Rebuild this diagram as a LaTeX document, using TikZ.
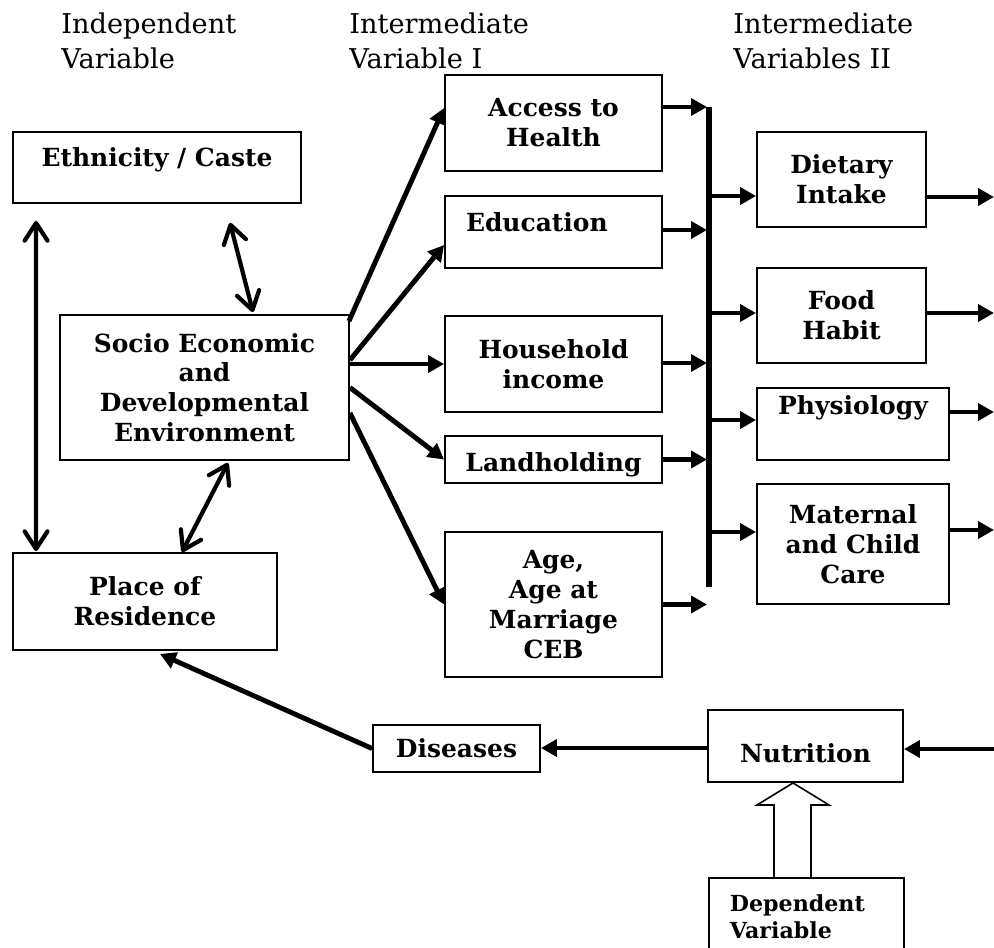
\documentclass[tikz,border=0pt]{standalone}
\usepackage{fontspec}
\setmainfont{DejaVu Serif}
\usetikzlibrary{arrows.meta,calc}
\tikzset{
  box/.style={draw,line width=1.1pt,inner sep=2pt,align=center,
    font=\fontsize{14.2}{17}\selectfont\bfseries},
  head/.style={inner sep=0pt,align=left,font=\fontsize{15.5}{19.8}\selectfont},
  arr/.style={line width=2.8pt,-{Triangle[length=9pt,width=9.5pt]}},
  dbl/.style={line width=2.4pt,
    {Straight Barb[length=10pt,width=13pt,round]}-{Straight Barb[length=10pt,width=13pt,round]}},
  bus/.style={line width=3pt},
  hollow/.style={line width=0.9pt,fill=white}
}
\begin{document}
\begin{tikzpicture}[x=0.02cm,y=-0.02cm]
  \useasboundingbox (0,0) rectangle (994,947);
  % headings
  \node[head,anchor=base west] (hind) at (61,68) {Independent\\Variable};
  \node[head,anchor=base west] (hint) at (349,68) {Intermediate\\Variable I};
  \node[head,anchor=base west] (hintb) at (733,68) {Intermediate\\Variables II};
  % independent side
  \node[box,minimum width=5.76cm,minimum height=1.42cm,text height=10pt,text depth=11.7pt] (eth) at (157,167.5) {Ethnicity / Caste};
  \node[box,minimum width=5.78cm,minimum height=2.9cm] (soc) at (204.5,387.5) {Socio Economic\\and\\Developmental\\Environment};
  \node[box,minimum width=5.28cm,minimum height=1.94cm] (pla) at (145,601.5) {Place of\\Residence};
  % intermediate I
  \node[box,minimum width=4.34cm,minimum height=1.92cm] (acc) at (553.5,123) {Access to\\Health};
  \node[box,minimum width=4.34cm,minimum height=1.44cm,text width=3.5cm,inner xsep=0.42cm,align=left,text height=10pt,text depth=11.1pt] (edu) at (553.5,232) {Education};
  \node[box,minimum width=4.34cm,minimum height=1.92cm] (hou) at (553.5,364) {Household\\income};
  \node[box,minimum width=4.34cm,minimum height=0.94cm,text height=14.2pt,text depth=0pt] (lan) at (553.5,459.5) {Landholding};
  \node[box,minimum width=4.34cm,minimum height=2.9cm] (age) at (553.5,604.5) {Age,\\Age at\\Marriage\\CEB};
  % intermediate II
  \node[box,minimum width=3.38cm,minimum height=1.9cm] (die) at (841.5,179.5) {Dietary\\Intake};
  \node[box,minimum width=3.38cm,minimum height=1.9cm] (foo) at (841.5,315.5) {Food\\Habit};
  \node[box,minimum width=3.84cm,minimum height=1.44cm,text height=10pt,text depth=21.3pt] (phy) at (853,424) {Physiology};
  \node[box,minimum width=3.84cm,minimum height=2.4cm] (mat) at (853,544) {Maternal\\and Child\\Care};
  % bottom row
  \node[box,minimum width=3.34cm,minimum height=0.94cm] (dis) at (456.5,748.5) {Diseases};
  \node[box,minimum width=3.9cm,minimum height=1.44cm,text height=18.2pt,text depth=0pt] (nut) at (805.5,746) {Nutrition};
  \node[box,anchor=north west,minimum width=3.9cm,text width=3.06cm,inner xsep=0.42cm,inner ysep=9.6pt,align=left,
    font=\fontsize{12.6}{15.5}\selectfont\bfseries] (dep) at (708,877) {Dependent\\Variable};

  % two-way links
  \draw[dbl] ($(eth.south west)+(24,17)$) -- ($(pla.north west)+(24,-1)$);
  \draw[dbl] ($(eth.south)+(73,19)$) -- ($(soc.north)+(48.5,-2)$);
  \draw[dbl] ($(soc.south)+(23.5,2)$) -- ($(pla.north)+(37,0)$);

  % socio economic fan
  \draw[arr] ($(soc.north east)+(-1,7)$) -- ($(acc.west)+(0,-15)$);
  \draw[arr] ($(soc.east)+(0,-27.5)$) -- ($(edu.west)+(0,13)$);
  \draw[arr] (soc.east |- hou.west) -- (hou.west);
  \draw[arr] (soc.east) -- (lan.west);
  \draw[arr] ($(soc.east)+(0,25.5)$) -- (age.west);

  % collecting bar
  \coordinate (bust) at (709,107);
  \coordinate (busb) at (709,587);
  \coordinate (busin) at (707,0);
  \coordinate (rim) at (994,0);
  \draw[bus] (bust) -- (busb);
  \draw[arr] ($(acc.east)+(0,-16)$) coordinate (p1) -- (p1 -| busin);
  \draw[arr] ($(edu.east)+(0,-2)$) coordinate (p2) -- (p2 -| busin);
  \draw[arr] ($(hou.east)+(0,-1)$) coordinate (p3) -- (p3 -| busin);
  \draw[arr] (lan.east) -- (lan.east -| busin);
  \draw[arr] (age.east) -- (age.east -| busin);

  \path ($(die.west)+(0,16.5)$) coordinate (q1)
        ($(foo.west)+(0,-2.5)$) coordinate (q2)
        ($(phy.west)+(0,-4)$) coordinate (q3)
        ($(mat.west)+(0,-12)$) coordinate (q4);
  \draw[arr] (bust |- q1) -- (q1);
  \draw[arr] (bust |- q2) -- (q2);
  \draw[arr] (bust |- q3) -- (q3);
  \draw[arr] (bust |- q4) -- (q4);

  % leaving to the right
  \draw[arr] ($(die.east)+(0,17.5)$) coordinate (r1) -- (r1 -| rim);
  \draw[arr] ($(foo.east)+(0,-2.5)$) coordinate (r2) -- (r2 -| rim);
  \draw[arr] ($(phy.east)+(0,-12)$) coordinate (r3) -- (r3 -| rim);
  \draw[arr] ($(mat.east)+(0,-14)$) coordinate (r4) -- (r4 -| rim);

  % back to nutrition and round again
  \path ($(nut.east)+(0,3)$) coordinate (s);
  \draw[arr] (s -| rim) -- (s);
  \draw[arr] ($(nut.west)+(0,2)$) coordinate (t) -- (t -| dis.east);
  \draw[arr] (dis.west) -- ($(pla.south)+(15,3)$);

  % hollow arrow
  \path ($(nut.south)+(-12.5,0)$) coordinate (tip);
  \draw[hollow] (tip) -- ++(36,22) -- ++(-18,0) -- ++(0,73) -- ++(-37,0) -- ++(0,-73) -- ++(-17,0) -- cycle;
\end{tikzpicture}
\end{document}
